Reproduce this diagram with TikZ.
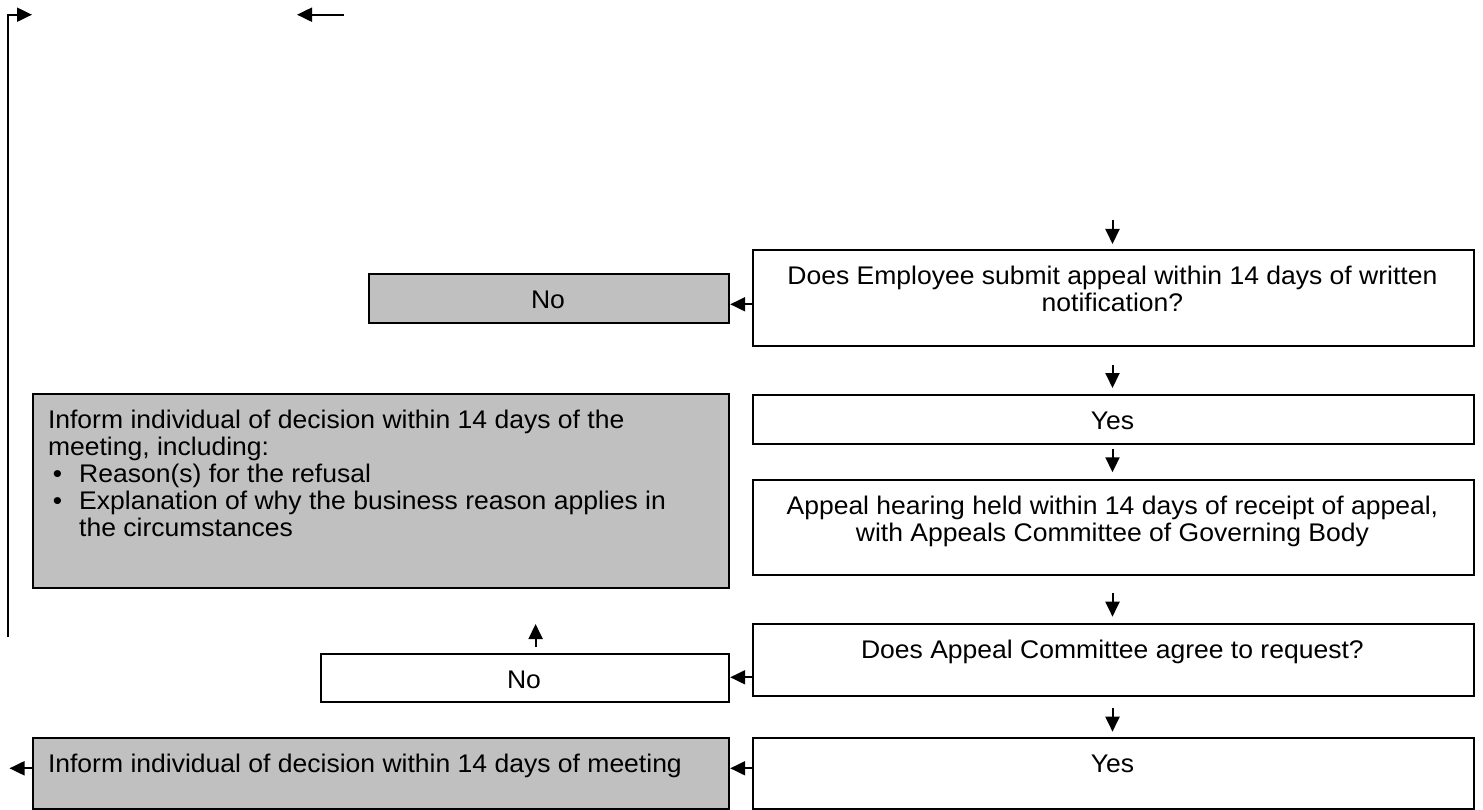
\documentclass[tikz,border=0pt]{standalone}
\usepackage{fontspec}
\setmainfont{Liberation Sans}[FakeStretch=1.04]
\usetikzlibrary{arrows.meta}
\definecolor{boxgrey}{RGB}{192,192,192}
\begin{document}
\begin{tikzpicture}[x=1pt,y=-1pt,
  flow/.style={draw=black, line width=1.9pt, fill=white, inner sep=0pt, anchor=north west},
  shaded/.style={flow, fill=boxgrey},
  txt/.style={inner sep=0pt, font=\fontsize{25.5}{27}\selectfont},
  arr/.style={line width=2pt, -{Triangle[length=15pt,width=14pt]}}]
\useasboundingbox (0,0) rectangle (1483,810);

% right-hand column
\node[flow, minimum width=721.3pt, minimum height=96pt]  (ask)     at (751.7,249.3) {};
\node[flow, minimum width=721.3pt, minimum height=48.4pt] (yesA)   at (751.7,394.3) {};
\node[flow, minimum width=721.3pt, minimum height=95pt]  (hearing) at (751.7,479.3) {};
\node[flow, minimum width=721.3pt, minimum height=71.7pt] (agree)  at (751.7,623.3) {};
\node[flow, minimum width=721.3pt, minimum height=71pt]  (yesB)    at (751.7,737.3) {};

% left-hand outcomes
\node[shaded, minimum width=360.6pt, minimum height=48.7pt] (noA)    at (367.7,273.3) {};
\node[shaded, minimum width=696.6pt, minimum height=193.4pt] (refuse) at (31.7,393.3) {};
\node[flow,   minimum width=408.3pt, minimum height=47.7pt] (noB)    at (320,653.3) {};
\node[shaded, minimum width=696.6pt, minimum height=71pt]   (inform) at (31.7,737.3) {};

% texts
\node[txt, anchor=base] (askT1) at (1112.4,284.8) {Does Employee submit appeal within 14 days of written};
\node[txt, anchor=base] (askT2) at (1112.4,311.8) {notification?};
\node[txt, anchor=base] (yesAT) at (1112.4,429.8) {Yes};
\node[txt, anchor=base] (hearT1) at (1112.4,514.8) {Appeal hearing held within 14 days of receipt of appeal,};
\node[txt, anchor=base] (hearT2) at (1112.4,541.8) {with Appeals Committee of Governing Body};
\node[txt, anchor=base] (agreeT) at (1112.4,658.8) {Does Appeal Committee agree to request?};
\node[txt, anchor=base] (yesBT) at (1112.4,772.8) {Yes};
\node[txt, anchor=base] (noAT) at (548,308.8) {No};
\node[txt, anchor=base] (noBT) at (524,688.8) {No};
\node[txt, anchor=base west] (refT1) at (47.8,428.8) {Inform individual of decision within 14 days of the};
\node[txt, anchor=base west] (refT2) at (47.8,455.8) {meeting, including:};
\node[txt, anchor=base] (refB1) at (57.5,482.8) {•};
\node[txt, anchor=base west] (refT3) at (79,482.8) {Reason(s) for the refusal};
\node[txt, anchor=base] (refB2) at (57.5,509.8) {•};
\node[txt, anchor=base west] (refT4) at (79,509.8) {Explanation of why the business reason applies in};
\node[txt, anchor=base west] (refT5) at (79,536.8) {the circumstances};
\node[txt, anchor=base west] (infT) at (47.8,772.8) {Inform individual of decision within 14 days of meeting};

% free ends of the short connectors
\coordinate (d1s) at (1112.5,220);   \coordinate (d1e) at (1112.5,244);
\coordinate (d2s) at (1112.5,365);   \coordinate (d2e) at (1112.5,388);
\coordinate (d3s) at (1112.5,449);   \coordinate (d3e) at (1112.5,472.3);
\coordinate (d4s) at (1112.5,593.3); \coordinate (d4e) at (1112.5,616.7);
\coordinate (d5s) at (1112.5,708.3); \coordinate (d5e) at (1112.5,731.7);
\coordinate (upS) at (535.6,647);    \coordinate (upE) at (535.6,624);
\coordinate (outE) at (9.5,768.3);
\coordinate (loopS) at (7.5,637);    \coordinate (loopE) at (32,14.7);
\coordinate (topS) at (344,14.7);    \coordinate (topE) at (297,14.7);

% vertical flow arrows
\draw[arr] (d1s) -- (d1e);
\draw[arr] (d2s) -- (d2e);
\draw[arr] (d3s) -- (d3e);
\draw[arr] (d4s) -- (d4e);
\draw[arr] (d5s) -- (d5e);
\draw[arr] (upS) -- (upE);

% branches to the left
\draw[arr] (ask.west |- 0,304.3) -- (noA.east |- 0,304.3);
\draw[arr] (agree.west |- 0,677.3) -- (noB.east |- 0,677.3);
\draw[arr] (yesB.west |- 0,768.3) -- (inform.east |- 0,768.3);
\draw[arr] (inform.west |- 0,768.3) -- (outE);

% return line along the left edge
\draw[arr] (loopS) |- (loopE);
\draw[arr] (topS) -- (topE);
\end{tikzpicture}
\end{document}
